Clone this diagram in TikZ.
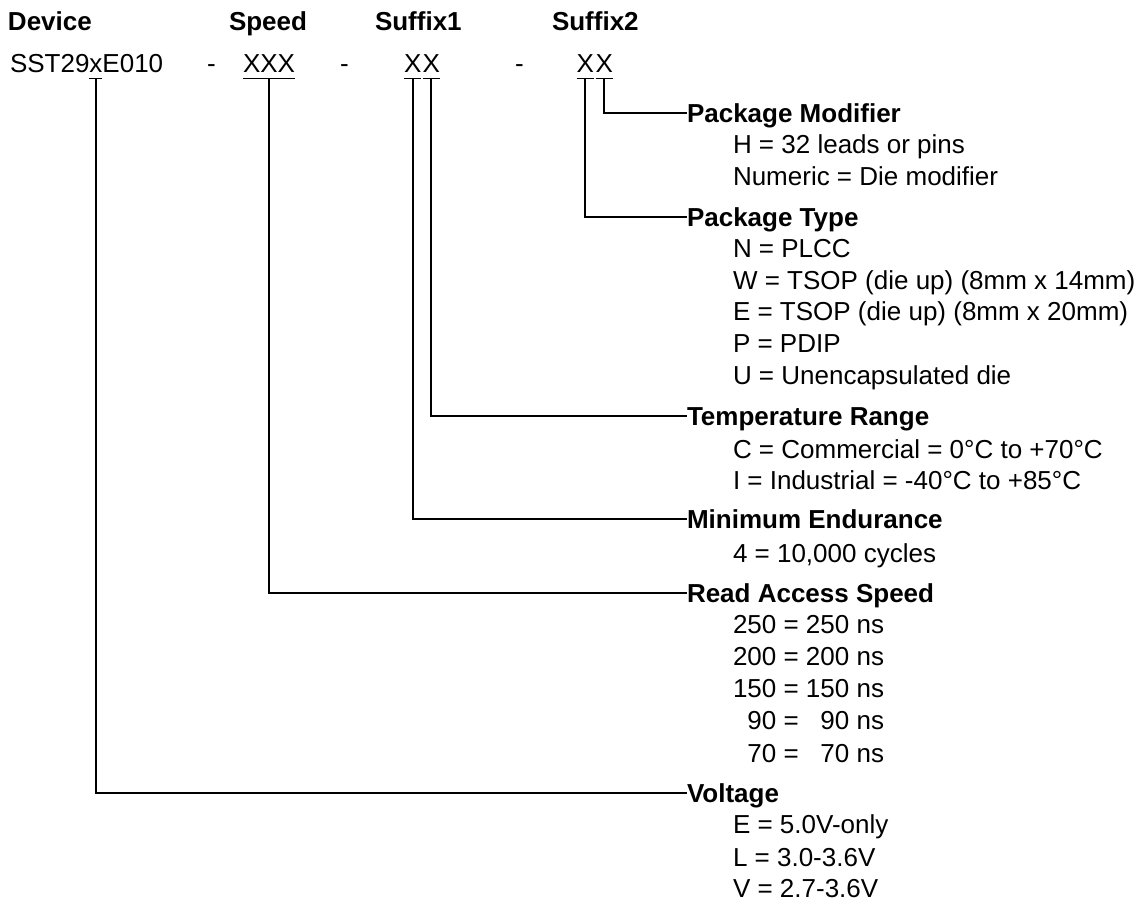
\documentclass[tikz,border=0pt]{standalone}
\usepackage{fontspec}
\setmainfont{Liberation Sans}
\begin{document}
\begin{tikzpicture}[x=1pt,y=-1pt,
 every node/.style={inner sep=0pt, outer sep=0pt, anchor=base west, font=\fontsize{26}{32}\selectfont},
 hdr/.style={font=\fontsize{26}{32}\selectfont\bfseries},
 lbl/.style={font=\fontsize{26}{32}\selectfont\bfseries, text height=18pt, text depth=0pt},
 code/.style={text depth=6.5pt},
 conn/.style={line width=2pt},
 uline/.style={line width=1.5pt}]
\useasboundingbox (0,0) rectangle (1148,902);
% header row
\node[hdr] (hdev) at (8,30) {Device};
\node[hdr] (hspd) at (229,30) {Speed};
\node[hdr] (hs1) at (375,30) {Suffix1};
\node[hdr] (hs2) at (552,30) {Suffix2};
% code row
\node (dev1) at (10,72) {SST29};
\node[code] (devx) at (dev1.base east) {x};
\node (dev2) at (devx.base east) {E010};
\node (d1) at (207,72) {-};
\node[code] (spd) at (243,72) {XXX};
\node (d2) at (340,72) {-};
\node[code] (s1a) at (404,72) {X};
\node[code] (s1b) at (422.5,72) {X};
\node (d3) at (515,72) {-};
\node[code] (s2a) at (576.5,72) {X};
\node[code] (s2b) at (595.5,72) {X};
\foreach \n in {devx,spd,s1a,s1b,s2a,s2b} \draw[uline] (\n.south west) -- (\n.south east);
% labels
\node[lbl] (pm) at (687,122) {Package Modifier};
\node (pm1) at (733,153) {H = 32 leads or pins};
\node (pm2) at (733,185) {Numeric = Die modifier};
\node[lbl] (pt) at (687,226) {Package Type};
\node (pt1) at (733,257) {N = PLCC};
\node (pt2) at (733,289) {W = TSOP (die up) (8mm x 14mm)};
\node (pt3) at (733,320) {E = TSOP (die up) (8mm x 20mm)};
\node (pt4) at (733,352) {P = PDIP};
\node (pt5) at (733,384) {U = Unencapsulated die};
\node[lbl] (tr) at (687,425) {Temperature Range};
\node (tr1) at (733,458) {C = Commercial = 0°C to +70°C};
\node (tr2) at (733,489) {I = Industrial = -40°C to +85°C};
\node[lbl] (me) at (687,528) {Minimum Endurance};
\node (me1) at (733,562) {4 = 10,000 cycles};
\node[lbl] (ra) at (687,602) {Read Access Speed};
\node (ra1) at (733,633) {250 = 250 ns};
\node (ra2) at (733,665) {200 = 200 ns};
\node (ra3) at (733,697) {150 = 150 ns};
\node (ra4) at (733,729) {\phantom{0}90 = \phantom{0}90 ns};
\node (ra5) at (733,762) {\phantom{0}70 = \phantom{0}70 ns};
\node[lbl] (vo) at (687,802) {Voltage};
\node (vo1) at (733,833) {E = 5.0V-only};
\node (vo2) at (733,866) {L = 3.0-3.6V};
\node (vo3) at (733,897) {V = 2.7-3.6V};
% connectors
\draw[conn] (s2b.south) |- (pm.west);
\draw[conn] (s2a.south) |- (pt.west);
\draw[conn] (s1b.south) |- (tr.west);
\draw[conn] (s1a.south) |- (me.west);
\draw[conn] (spd.south) |- (ra.west);
\draw[conn] (devx.south) |- (vo.west);
\end{tikzpicture}
\end{document}
